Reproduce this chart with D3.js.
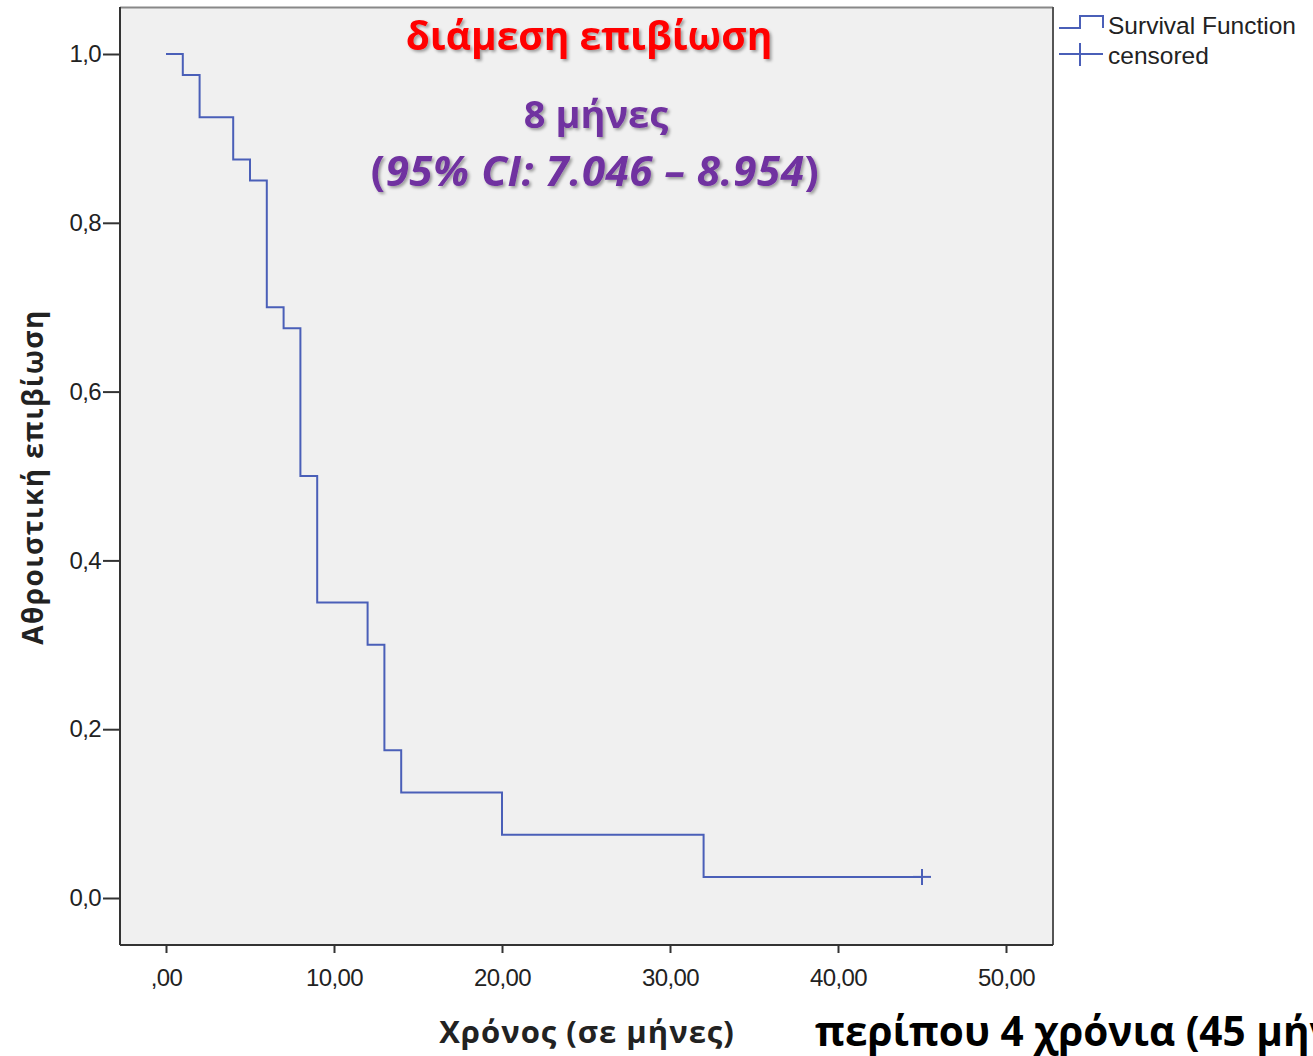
<!DOCTYPE html>
<html><head><meta charset="utf-8">
<script src="https://cdn.jsdelivr.net/npm/d3@7"></script>
<style>body{margin:0;background:#fff}svg{display:block}</style>
</head><body>
<svg id="c" width="1313" height="1056"></svg>
<script>
const times = [0, 1, 2, 4, 5, 6, 7, 8, 9, 12, 13, 14, 20, 32, 45];
const survival = [1.0, 0.975, 0.925, 0.875, 0.85, 0.70, 0.675, 0.50, 0.35, 0.30, 0.175, 0.125, 0.075, 0.025, 0.025];
const censoredTimes = [45];
const censoredValues = [0.025];
const xTicks = [0, 10, 20, 30, 40, 50];
const xTickLabels = [",00", "10,00", "20,00", "30,00", "40,00", "50,00"];
const yTicks = [0, 0.2, 0.4, 0.6, 0.8, 1.0];
const yTickLabels = ["0,0", "0,2", "0,4", "0,6", "0,8", "1,0"];
const legendLabels = ["Survival Function", "censored"];

const svg = d3.select("#c");
const L = 120, T = 7, R = 1053, B = 945;
const x = d3.scaleLinear().domain([0, 50]).range([166, 1006]);
const y = d3.scaleLinear().domain([0, 1]).range([898, 54]);
const blue = "#4a5fb8";
const sans = "Liberation Sans, Arial, sans-serif";

svg.append("rect").attr("x", L).attr("y", T).attr("width", R - L).attr("height", B - T)
  .attr("fill", "#f0f0f0");
svg.append("line").attr("x1", L).attr("x2", R).attr("y1", T + 0.5).attr("y2", T + 0.5).attr("stroke", "#888").attr("stroke-width", 2);
svg.append("line").attr("x1", R).attr("x2", R).attr("y1", T).attr("y2", B).attr("stroke", "#555").attr("stroke-width", 2);
svg.append("line").attr("x1", L).attr("x2", R).attr("y1", B).attr("y2", B).attr("stroke", "#333").attr("stroke-width", 2);
svg.append("line").attr("x1", L).attr("x2", L).attr("y1", T).attr("y2", B).attr("stroke", "#333").attr("stroke-width", 2);

// axes
const xAxis = d3.axisBottom(x).tickValues(xTicks).tickFormat((d, i) => xTickLabels[i]).tickSize(8).tickPadding(16);
const gx = svg.append("g").attr("transform", `translate(0,${B})`).call(xAxis);
gx.select(".domain").remove();
gx.selectAll("line").attr("stroke", "#333").attr("stroke-width", 2);
gx.selectAll("text").attr("font-family", sans).attr("font-size", 24).attr("fill", "#222")
  .attr("letter-spacing", "-0.6px");

const yAxis = d3.axisLeft(y).tickValues(yTicks).tickFormat((d, i) => yTickLabels[i]).tickSize(17).tickPadding(2);
const gy = svg.append("g").attr("transform", `translate(${L},0)`).call(yAxis);
gy.select(".domain").remove();
gy.selectAll("line").attr("stroke", "#333").attr("stroke-width", 2);
gy.selectAll("text").attr("font-family", sans).attr("font-size", 24).attr("fill", "#222")
  .attr("letter-spacing", "-0.6px");

// step line
const pts = times.map((t, i) => [t, survival[i]]);
const line = d3.line().x(d => x(d[0])).y(d => y(d[1])).curve(d3.curveStepAfter);
svg.append("path").datum(pts).attr("d", line).attr("fill", "none").attr("stroke", blue).attr("stroke-width", 2);

// censored marks
censoredTimes.forEach((t, i) => {
  const cx = x(t), cy = y(censoredValues[i]);
  svg.append("line").attr("x1", cx - 9).attr("x2", cx + 9).attr("y1", cy).attr("y2", cy).attr("stroke", blue).attr("stroke-width", 2);
  svg.append("line").attr("x1", cx).attr("x2", cx).attr("y1", cy - 8).attr("y2", cy + 8).attr("stroke", blue).attr("stroke-width", 2);
});

// legend
const lg = svg.append("g");
lg.append("path").attr("d", "M1059,28 H1080 V16 H1103 V28").attr("fill", "none").attr("stroke", blue).attr("stroke-width", 2);
lg.append("line").attr("x1", 1059).attr("x2", 1103).attr("y1", 54).attr("y2", 54).attr("stroke", blue).attr("stroke-width", 2);
lg.append("line").attr("x1", 1080).attr("x2", 1080).attr("y1", 43).attr("y2", 66).attr("stroke", blue).attr("stroke-width", 2);
legendLabels.forEach((s, i) => {
  lg.append("text").attr("x", 1108).attr("y", 34 + i * 30).attr("font-family", sans)
    .attr("font-size", 24.5).attr("fill", "#222").text(s);
});

// axis titles
svg.append("text").attr("x", 587).attr("y", 1043).attr("text-anchor", "middle")
  .attr("font-family", "Open Sans, sans-serif").attr("font-weight", "bold").attr("font-size", 31)
  .attr("fill", "#222").attr("letter-spacing", "1px").text("Χρόνος (σε μήνες)");
svg.append("text").attr("transform", "translate(43,477) rotate(-90)").attr("text-anchor", "middle")
  .attr("font-family", "Open Sans, sans-serif").attr("font-weight", "bold").attr("font-size", 28)
  .attr("fill", "#222").attr("letter-spacing", "1.4px").text("Αθροιστική επιβίωση");

// annotations
const defs = svg.append("defs");
const f = defs.append("filter").attr("id", "sh").attr("x", "-10%").attr("y", "-30%").attr("width", "130%").attr("height", "170%");
f.append("feDropShadow").attr("dx", 2).attr("dy", 2).attr("stdDeviation", 1.5).attr("flood-color", "#000").attr("flood-opacity", 0.35);

svg.append("text").attr("x", 589).attr("y", 50).attr("text-anchor", "middle").attr("filter", "url(#sh)")
  .attr("font-family", "Open Sans, sans-serif").attr("font-weight", "bold").attr("font-size", 39)
  .attr("fill", "#ff0000").text("διάμεση επιβίωση");
svg.append("text").attr("x", 596).attr("y", 128).attr("text-anchor", "middle").attr("filter", "url(#sh)")
  .attr("font-family", "Open Sans, sans-serif").attr("font-weight", "bold").attr("font-size", 38)
  .attr("fill", "#7030a0").text("8 μήνες");
const ci = svg.append("text").attr("x", 595).attr("y", 186).attr("text-anchor", "middle").attr("filter", "url(#sh)")
  .attr("font-family", "Open Sans, sans-serif").attr("font-weight", "bold").attr("font-size", 42)
  .attr("fill", "#7030a0").attr("letter-spacing", "0.6px");
ci.append("tspan").text("(");
ci.append("tspan").attr("font-style", "italic").text("95% CI: 7.046 – 8.954");
ci.append("tspan").text(")");

// bottom note, cut off at the right edge as in the reference
svg.append("text").attr("x", 815).attr("y", 1046)
  .attr("font-family", "Open Sans, sans-serif").attr("font-weight", "bold").attr("font-size", 40.5)
  .attr("fill", "#000").attr("letter-spacing", "0px").text("περίπου 4 χρόνια (45 μήνες)");
</script>
</body></html>
